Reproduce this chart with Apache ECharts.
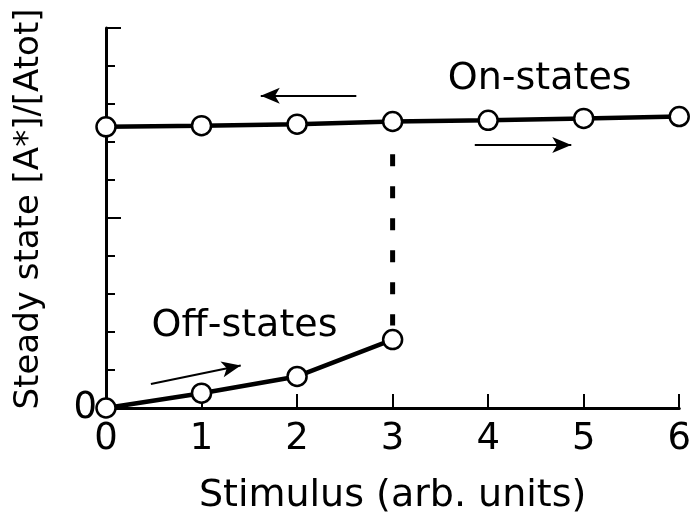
<!DOCTYPE html>
<html>
<head>
<meta charset="utf-8">
<script src="https://cdn.jsdelivr.net/npm/echarts@6/dist/echarts.min.js"></script>
<style>
html,body{margin:0;padding:0;background:#fff;}
#chart{width:694px;height:520px;}
</style>
</head>
<body>
<div id="chart"></div>
<script>
// ---- data ----
const stimulus = [0, 1, 2, 3, 4, 5, 6];
const onStates = [7.40, 7.43, 7.47, 7.54, 7.57, 7.62, 7.67];
const offStimulus = [0, 1, 2, 3];
const offStates = [0, 0.39, 0.83, 1.80];
const jumpX = [3, 3];
const jumpY = [6.68, 2.17];
const xTickLabels = ['0', '1', '2', '3', '4', '5', '6'];
const yTickLabels = ['0'];
const yTickValues = [0];
const arrowStarts = [[2.62, 8.22], [3.86, 6.92], [0.47, 0.63]];
const arrowEnds = [[1.62, 8.22], [4.87, 6.92], [1.41, 1.12]];
const annotTexts = ['On-states', 'Off-states'];
const annotPos = [[4.54, 8.66], [1.45, 2.16]];
const xTitle = 'Stimulus (arb. units)';
const yTitle = 'Steady state [A*]/[Atot]';

const FONT = 'DejaVu Sans';
const chart = echarts.init(document.getElementById('chart'), null, {renderer: 'canvas'});

const option = {
  backgroundColor: '#fff',
  animation: false,
  grid: {left: 106, right: 6, top: 28, bottom: 109, containLabel: false},
  xAxis: {
    type: 'value', min: 0, max: 6, interval: 1,
    name: xTitle, nameLocation: 'middle', nameGap: 69,
    nameTextStyle: {fontFamily: FONT, fontSize: 38, color: '#000'},
    axisLine: {show: true, onZero: false, lineStyle: {color: '#000', width: 3}},
    axisTick: {show: true, inside: true, length: 14, lineStyle: {color: '#000', width: 2}},
    axisLabel: {show: true, margin: 13, fontFamily: FONT, fontSize: 37, color: '#000',
      formatter: v => xTickLabels[Math.round(v)] ?? ''},
    splitLine: {show: false}
  },
  yAxis: {
    type: 'value', min: 0, max: 10, interval: 5,
    name: yTitle, nameLocation: 'middle', nameGap: 60, nameRotate: 90,
    nameTextStyle: {fontFamily: FONT, fontSize: 34, color: '#000', padding: [0, 0, 0, 18]},
    axisLine: {show: true, onZero: false, lineStyle: {color: '#000', width: 3}},
    axisTick: {show: true, inside: true, length: 15, lineStyle: {color: '#000', width: 2}},
    minorTick: {show: true, splitNumber: 5, length: 9, lineStyle: {color: '#000', width: 2}},
    axisLabel: {show: true, margin: 9, fontFamily: FONT, fontSize: 37, color: '#000',
      formatter: v => { const i = yTickValues.indexOf(v); return i >= 0 ? yTickLabels[i] : ''; }},
    splitLine: {show: false}
  },
  series: [
    {
      name: 'jump', type: 'line', z: 2,
      data: jumpX.map((x, i) => [x, jumpY[i]]),
      symbol: 'none',
      lineStyle: {color: '#000', width: 5, type: [12, 20]}
    },
    {
      name: 'On-states', type: 'line', z: 3,
      data: stimulus.map((x, i) => [x, onStates[i]]),
      symbol: 'circle', symbolSize: 19,
      itemStyle: {color: '#fff', borderColor: '#000', borderWidth: 2.5},
      lineStyle: {color: '#000', width: 4.5},
      markLine: {
        silent: true,
        symbol: ['none', 'arrow'],
        symbolSize: [12, 19],
        label: {show: false},
        lineStyle: {color: '#000', width: 2, type: 'solid'},
        data: arrowStarts.map((s, i) => [{coord: s}, {coord: arrowEnds[i]}])
      }
    },
    {
      name: 'Off-states', type: 'line', z: 3,
      data: offStimulus.map((x, i) => [x, offStates[i]]),
      symbol: 'circle', symbolSize: 19,
      itemStyle: {color: '#fff', borderColor: '#000', borderWidth: 2.5},
      lineStyle: {color: '#000', width: 4.5}
    }
  ]
};
chart.setOption(option);

const graphics = annotTexts.map((t, i) => {
  const p = chart.convertToPixel({gridIndex: 0}, annotPos[i]);
  return {
    type: 'text', x: p[0], y: p[1], z: 10,
    style: {text: t, fontFamily: FONT, fontSize: 38, fill: '#000', align: 'center', verticalAlign: 'middle'}
  };
});
chart.setOption({graphic: graphics});
</script>
</body>
</html>
